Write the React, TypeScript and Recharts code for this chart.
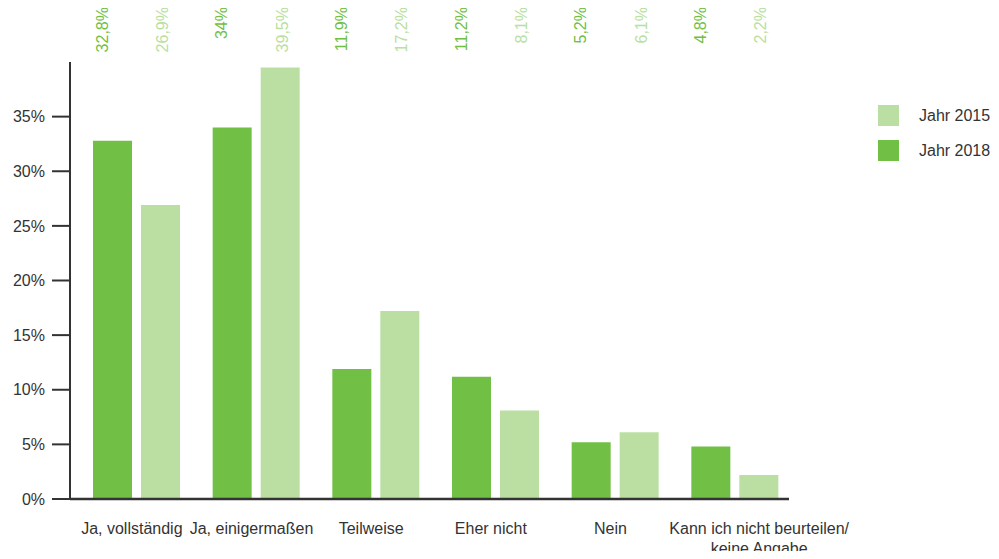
import { BarChart, Bar, XAxis, YAxis, Legend, LabelList } from 'recharts';

const categories = [
  'Ja, vollständig',
  'Ja, einigermaßen',
  'Teilweise',
  'Eher nicht',
  'Nein',
  'Kann ich nicht beurteilen/\nkeine Angabe',
];
const jahr2018 = [32.8, 34, 11.9, 11.2, 5.2, 4.8];
const jahr2015 = [26.9, 39.5, 17.2, 8.1, 6.1, 2.2];
const yTicks = [0, 5, 10, 15, 20, 25, 30, 35];

const DARK = '#71bf44';
const LIGHT = '#bbdfa2';
const FONT = '"Liberation Sans", Arial, sans-serif';

const chartData = categories.map((name, i) => ({
  name,
  y2018: jahr2018[i],
  y2015: jahr2015[i],
}));

const fmt = (v: number) => `${String(v).replace('.', ',')}%`;

// value labels sit in a row along the top edge, rotated
function topLabel(color: string, shift: number) {
  return (props: any) => {
    const { x, width, value } = props;
    const ax = Number(x) + Number(width) / 2 + shift;
    return (
      <text
        x={ax}
        y={7}
        transform={`rotate(-90, ${ax}, 7)`}
        textAnchor="end"
        fill={color}
        fontSize={16}
        fontFamily={FONT}
      >
        {fmt(value)}
      </text>
    );
  };
}

function CategoryTick({ x, y, payload }: any) {
  const lines = String(payload.value).split('\n');
  const dx = lines.length > 1 ? 24 : -5;
  return (
    <g transform={`translate(${x + dx},${y})`}>
      {lines.map((line, i) => (
        <text key={i} x={0} y={i * 20} dy={27} textAnchor="middle" fill="#333" fontSize={16} fontFamily={FONT}>
          {line}
        </text>
      ))}
    </g>
  );
}

function LegendBox() {
  const items = [
    { label: 'Jahr 2015', color: LIGHT },
    { label: 'Jahr 2018', color: DARK },
  ];
  return (
    <div style={{ fontFamily: FONT, fontSize: 16, color: '#333' }}>
      {items.map((it) => (
        <div key={it.label} style={{ display: 'flex', alignItems: 'center', height: 21, marginBottom: 14 }}>
          <span style={{ width: 21, height: 21, background: it.color, display: 'inline-block', marginRight: 20 }} />
          <span>{it.label}</span>
        </div>
      ))}
    </div>
  );
}

export default function App() {
  return (
    <div style={{ margin: -8, width: 999, height: 559, background: '#fff' }}>
      <BarChart
        width={999}
        height={559}
        data={chartData}
        margin={{ top: 62, right: 90, bottom: 10, left: 0 }}
        barSize={39}
        barGap={9}
      >
        <XAxis
          dataKey="name"
          interval={0}
          tickLine={false}
          axisLine={{ stroke: '#333', strokeWidth: 2.5 }}
          tick={<CategoryTick />}
          height={50}
          padding={{ left: 7, right: -6 }}
        />
        <YAxis
          type="number"
          domain={[0, 40]}
          ticks={yTicks}
          width={70}
          tickSize={18}
          tickMargin={7}
          tickFormatter={(v) => `${v}%`}
          axisLine={{ stroke: '#333', strokeWidth: 2 }}
          tickLine={{ stroke: '#333', strokeWidth: 2 }}
          tick={{ fill: '#333', fontSize: 16, fontFamily: FONT }}
        />
        <Legend
          layout="vertical"
          verticalAlign="top"
          align="right"
          content={<LegendBox />}
          wrapperStyle={{ left: 878, top: 105, width: 120 }}
        />
        <Bar dataKey="y2018" name="Jahr 2018" fill={DARK} isAnimationActive={false}>
          <LabelList dataKey="y2018" content={topLabel('#6fc044', -5)} />
        </Bar>
        <Bar dataKey="y2015" name="Jahr 2015" fill={LIGHT} isAnimationActive={false}>
          <LabelList dataKey="y2015" content={topLabel('#b9e0a0', 7.5)} />
        </Bar>
      </BarChart>
    </div>
  );
}
